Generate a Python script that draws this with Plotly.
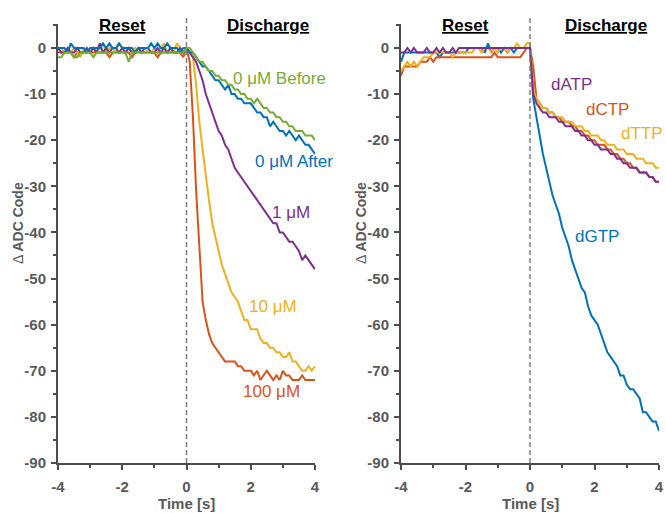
import numpy as np
import plotly.graph_objects as go

# ---------------- data ----------------
TIME = [round(v, 1) for v in np.linspace(-4, 4, 81)]

# Left panel (concentrations)
BEFORE_0UM = [-2,-2,-1,-1,-1,-2,-2,-1,-1,-1, -1,-2,-1,-1,-1,-1,-1,-1,-1,-1,
              -1,-1,-3,-1,-1,-1,-1,-1,-1,-1, -1,-1,-1,-1,-1,-1,-1,-1,-1,-1,
              0,0,-1,-2,-3,-3,-4,-5,-5,-6, -6,-7,-7,-8,-8,-9,-9,-10,-10,-11,
              -11,-12,-11,-12,-13,-13,-14,-14,-15,-15, -16,-16,-17,-17,-18,-18,-18,-19,-19,-19, -20]
AFTER_0UM = [0,0,0,-1,1,0,0,0,0,-1, 0,0,0,0,1,0,1,0,0,1,
             0,0,0,0,-1,0,0,0,0,1, 0,1,0,0,1,0,0,0,-1,0,
             0,-1,-1,-2,-3,-4,-4,-5,-6,-7, -7,-8,-9,-8,-10,-10,-11,-11,-12,-12,
             -12,-13,-14,-14,-15,-15,-17,-16,-17,-18, -18,-19,-18,-19,-20,-19,-20,-21,-21,-22, -23]
C_1UM = [0,-1,-1,0,-1,-1,0,-1,-1,0, -1,0,-1,1,-1,0,-1,0,0,-1,
         0,-1,0,-1,-1,0,-1,0,0,-1, -1,0,-1,0,-1,0,-1,-1,0,-1,
         0,-1,-2,-3,-5,-7,-10,-12,-14,-16, -18,-19,-21,-22,-24,-26,-27,-28,-29,-30,
         -31,-32,-33,-34,-35,-36,-37,-38,-38,-40, -40,-41,-42,-42,-43,-44,-46,-45,-46,-47, -48]
C_10UM = [0,0,-1,0,-1,0,-1,-2,0,-1, -1,0,-1,0,1,-1,0,0,-1,1,
          0,-1,0,-1,0,-1,0,0,-1,-1, 0,-1,0,1,-1,0,-1,1,0,-1,
          0,-1,-2,-8,-16,-22,-28,-33,-38,-41, -44,-47,-49,-51,-53,-54,-55,-57,-59,-59,
          -61,-61,-61,-63,-64,-64,-65,-65,-66,-66, -67,-67,-66,-68,-68,-69,-70,-70,-69,-70, -69]
C_100UM = [-1,-1,-1,-1,-1,-2,-1,-1,-1,-1, -1,-1,-1,-1,-1,-1,-2,-1,-1,-1,
           -1,-1,-1,-2,-1,-1,-1,-1,-1,-1, -1,-2,-1,-1,-1,-1,-1,-1,-1,-2,
           0,-3,-15,-31,-44,-55,-59,-62,-64,-65, -66,-67,-68,-68,-68,-68,-69,-69,-70,-70,
           -70,-71,-70,-72,-71,-70,-71,-72,-71,-72, -70,-71,-71,-72,-72,-72,-71,-72,-72,-72, -72]

# Right panel (nucleotides)
DATP = [-1,-1,0,-1,0,-1,-1,-1,0,-1, -1,0,-1,0,-1,-1,0,-1,0,0,
        0,0,0,0,0,0,0,0,0,0, 0,0,0,0,0,0,0,0,0,0,
        0,-10,-12,-13,-14,-14,-15,-15,-15,-16, -16,-17,-17,-17,-18,-18,-19,-19,-20,-20,
        -21,-21,-22,-22,-22,-23,-23,-24,-24,-25, -25,-26,-26,-26,-27,-27,-27,-28,-28,-29, -29]
DCTP = [-6,-4,-4,-4,-4,-4,-3,-3,-3,-2, -3,-2,-2,-2,-2,-2,-2,-2,-2,-2,
        -2,-2,-2,-2,-2,-2,-2,-2,-2,-1, -2,-2,-2,-2,-2,-2,-2,-2,-1,0,
        0,-4,-11,-12,-13,-13,-14,-14,-15,-15, -16,-16,-16,-17,-17,-18,-18,-19,-19,-20,
        -20,-21,-21,-21,-22,-22,-23,-23,-24,-24, -25,-25,-26,-26,-27,-27,-27,-28,-28,-29, -29]
DTTP = [-5,-4,-3,-4,-3,-4,-3,-2,-2,-2, -1,-1,-1,-1,-1,-1,-2,-1,-1,-1,
        -1,-1,-1,0,0,-1,0,0,-1,0, -1,0,0,-1,0,0,1,0,0,1,
        1,-9,-11,-12,-13,-13,-14,-14,-15,-15, -15,-16,-16,-16,-17,-17,-17,-18,-18,-19,
        -19,-19,-20,-20,-21,-21,-21,-22,-22,-22, -23,-23,-23,-24,-24,-24,-25,-25,-25,-26, -26]
DGTP = [-3,-1,-1,-1,-1,-1,-1,-1,-1,-1, -1,-1,-2,-1,-1,-1,-1,-1,-1,-1,
        -1,0,0,0,0,0,-1,1,-1,0, 0,-1,0,-1,0,-1,0,0,0,0,
        0,-11,-15,-19,-23,-26,-29,-32,-34,-36, -39,-41,-43,-46,-48,-50,-52,-53,-56,-58,
        -59,-60,-62,-64,-66,-67,-68,-69,-71,-71, -73,-74,-74,-75,-76,-79,-79,-80,-81,-81, -83]

X_TICKS = [-4, -2, 0, 2, 4]
X_TICK_LABELS = ["-4", "-2", "0", "2", "4"]
Y_TICKS = [0, -10, -20, -30, -40, -50, -60, -70, -80, -90]
Y_TICK_LABELS = ["0", "-10", "-20", "-30", "-40", "-50", "-60", "-70", "-80", "-90"]

BLUE, ORANGE, YELLOW, PURPLE, GREEN = "#0072BD", "#D95319", "#EDB120", "#7E2F8E", "#77AC30"

LEFT_SERIES = [("100 µM", C_100UM, ORANGE), ("10 µM", C_10UM, YELLOW), ("1 µM", C_1UM, PURPLE),
               ("0 µM After", AFTER_0UM, BLUE), ("0 µM Before", BEFORE_0UM, GREEN)]
RIGHT_SERIES = [("dGTP", DGTP, BLUE), ("dCTP", DCTP, ORANGE), ("dTTP", DTTP, YELLOW), ("dATP", DATP, PURPLE)]

# label anchor points (data coordinates, left edge of text)
LEFT_LABELS = [("0 μM Before", 1.37, -6.7, GREEN), ("0 μM After", 2.06, -24.7, BLUE),
               ("1 μM", 2.59, -35.7, PURPLE), ("10 μM", 1.89, -56.1, YELLOW),
               ("100 μM", 1.70, -74.6, ORANGE)]
RIGHT_LABELS = [("dATP", 0.60, -8.0, PURPLE), ("dCTP", 1.68, -13.4, ORANGE),
                ("dTTP", 2.77, -18.5, YELLOW), ("dGTP", 1.34, -40.8, BLUE)]

for _, s, _ in LEFT_SERIES + RIGHT_SERIES:
    assert len(s) == len(TIME), len(s)

# ---------------- figure ----------------
W, H = 666, 513
FONT = "Arial, Liberation Sans, sans-serif"
AX = "#4d4d4d"
LBL = "#595959"

fig = go.Figure()
for name, ys, col in LEFT_SERIES:
    fig.add_trace(go.Scatter(x=TIME, y=ys, mode="lines", name=name, xaxis="x", yaxis="y",
                             line=dict(color=col, width=2), showlegend=False))
for name, ys, col in RIGHT_SERIES:
    fig.add_trace(go.Scatter(x=TIME, y=ys, mode="lines", name=name, xaxis="x2", yaxis="y2",
                             line=dict(color=col, width=2), showlegend=False))

ydom = [(H - 463) / H, (H - 24) / H]
common = dict(showline=True, linecolor=AX, linewidth=2, ticks="outside", ticklen=5,
              tickwidth=1.5, tickcolor=AX, showgrid=False, zeroline=False, automargin=False,
              tickfont=dict(family=FONT, size=15, color=LBL, weight="bold"))
xax = dict(common, range=[-4, 4], tickmode="array", tickvals=X_TICKS, ticktext=X_TICK_LABELS,
           minor=dict(ticks="outside", ticklen=3, tick0=0, dtick=1, tickcolor=AX, tickwidth=1.5),
           ticklabelstandoff=4)
yax = dict(common, range=[-90, 5.2], domain=ydom, tickmode="array", tickvals=Y_TICKS,
           ticktext=Y_TICK_LABELS,
           minor=dict(ticks="outside", ticklen=3, tick0=0, dtick=5, tickcolor=AX, tickwidth=1.5),
           ticklabelstandoff=2)

fig.update_layout(
    width=W, height=H, margin=dict(l=0, r=0, t=0, b=0, pad=0, autoexpand=False),
    paper_bgcolor="white", plot_bgcolor="white",
    xaxis=dict(xax, domain=[58 / W, 315 / W], anchor="y"),
    yaxis=dict(yax, anchor="x"),
    xaxis2=dict(xax, domain=[401 / W, 659 / W], anchor="y2"),
    yaxis2=dict(yax, anchor="x2"),
)

ann = []
for xr, yr, labels in (("x", "y", LEFT_LABELS), ("x2", "y2", RIGHT_LABELS)):
    for txt, xx, yy, col in labels:
        ann.append(dict(x=xx, y=yy, xref=xr, yref=yr, text=txt, showarrow=False,
                        xanchor="left", yanchor="middle",
                        font=dict(family=FONT, size=17, color=col)))
    # section titles
    for txt, xx in (("Reset", -2.0), ("Discharge", 2.55 if xr == "x" else 2.37)):
        ann.append(dict(x=xx, y=(H - 25) / H, xref=xr, yref="paper", text="<u>" + txt + "</u>",
                        showarrow=False, xanchor="center", yanchor="middle",
                        font=dict(family=FONT, size=17, color="black", weight="bold")))
    # x axis title
    ann.append(dict(x=0, y=(H - 503) / H, xref=xr, yref="paper", text="Time [s]", showarrow=False,
                    xanchor="center", yanchor="middle",
                    font=dict(family=FONT, size=15, color=LBL, weight="bold")))
    # dashed zero line
    fig.add_shape(type="line", xref=xr, yref="paper", x0=0, x1=0, y0=ydom[0], y1=(H - 15) / H,
                  line=dict(color="#7f7f7f", width=1.5, dash="5px,3px"))

for px in (18, 361):
    ann.append(dict(x=px / W, y=(H - 223) / H, xref="paper", yref="paper",
                    text="Δ <b>ADC Code</b>", textangle=-90, showarrow=False,
                    xanchor="center", yanchor="middle",
                    font=dict(family=FONT, size=14, color=LBL)))

fig.update_layout(annotations=ann)
fig.write_html("out.html", config={"displayModeBar": False},
               post_script="document.body.style.margin='0px';document.body.style.overflow='hidden';")
